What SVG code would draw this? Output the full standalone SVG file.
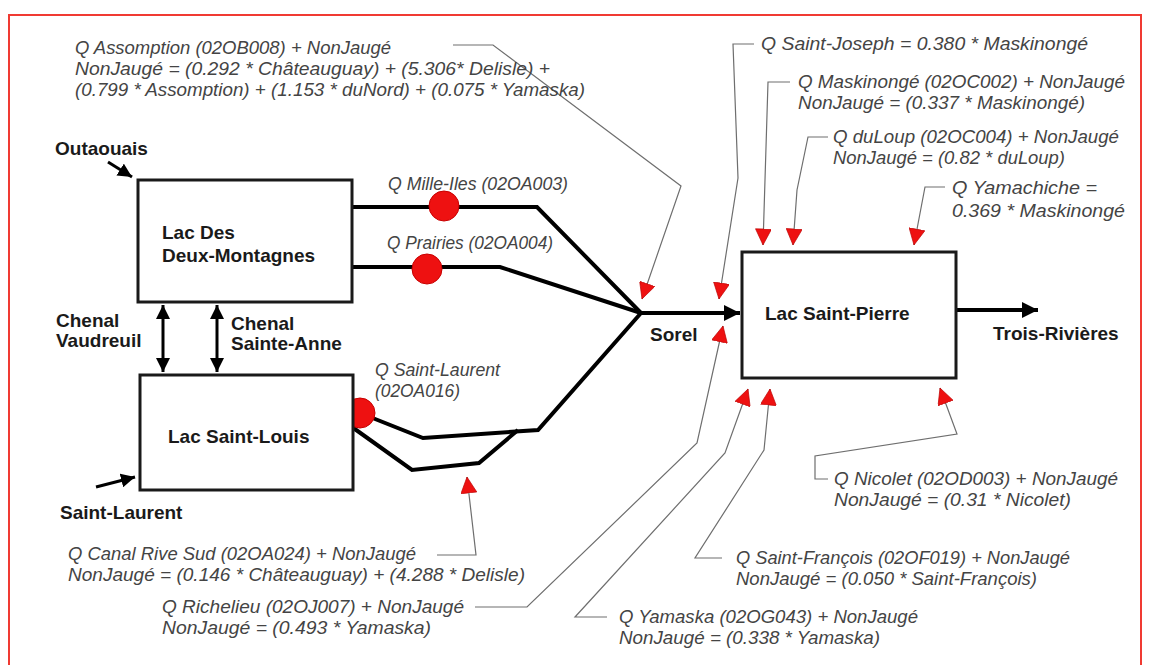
<svg xmlns="http://www.w3.org/2000/svg" width="1150" height="665" viewBox="0 0 1150 665">
<defs>
<style>
.bg{fill:#fff}
.frame{fill:none;stroke:#f03a32;stroke-width:2}
.box{fill:#fff;stroke:#1a1a1a;stroke-width:3}
.lbl{font-family:"Liberation Sans",Arial,sans-serif;font-weight:bold;font-size:19px;fill:#1a1a1a}
.ann{font-family:"Liberation Sans",Arial,sans-serif;font-style:italic;font-size:18px;fill:#444}
.flow{fill:none;stroke:#000;stroke-width:4;stroke-linejoin:miter}
.thin{fill:none;stroke:#000;stroke-width:3}
.lead{fill:none;stroke:#6e6e6e;stroke-width:1.2;marker-end:url(#red)}
.gauge{fill:#ee1111;stroke:#c80000;stroke-width:1}
</style>
<marker id="red" viewBox="0 0 10 10" refX="10" refY="5" markerWidth="17" markerHeight="16" markerUnits="userSpaceOnUse" orient="auto">
<path d="M0,0 L10,5 L0,10 z" fill="#ee1111" stroke="#b00" stroke-width="0.4"/>
</marker>
<marker id="blk" viewBox="0 0 10 10" refX="10" refY="5" markerWidth="17" markerHeight="16" markerUnits="userSpaceOnUse" orient="auto">
<path d="M0,0 L10,5 L0,10 z" fill="#000"/>
</marker>
<marker id="blks" viewBox="0 0 10 10" refX="10" refY="5" markerWidth="14" markerHeight="14" markerUnits="userSpaceOnUse" orient="auto-start-reverse">
<path d="M0,0 L10,5 L0,10 z" fill="#000"/>
</marker>
</defs>
<rect class="bg" x="0" y="0" width="1150" height="665"/>
<path class="frame" d="M9,670 V15 H1141 V670"/>

<g id="connectors">
<path class="flow" d="M352,207 H537 L641,313"/>
<path class="flow" d="M352,267 H500 L641,313"/>
<path class="flow" d="M360,413 L423,438 L538,430 L641,313"/>
<path class="flow" d="M352,427 L412,470 L479,463 L518,430"/>
<path class="flow" d="M641,313 H740" marker-end="url(#blk)"/>
<path class="flow" d="M957,310 H1038" marker-end="url(#blk)"/>
<path class="thin" d="M108,162 L132,177" stroke-width="4" marker-end="url(#blks)"/>
<path class="thin" d="M96,487 L135,477" stroke-width="4" marker-end="url(#blks)"/>
<path class="thin" d="M163,305 V372" marker-start="url(#blks)" marker-end="url(#blks)"/>
<path class="thin" d="M217,305 V372" marker-start="url(#blks)" marker-end="url(#blks)"/>
<circle class="gauge" cx="444" cy="206" r="15"/>
<circle class="gauge" cx="427" cy="269" r="15"/>
<circle class="gauge" cx="360" cy="413" r="15"/>
<path class="lead" d="M453,45 H493 L681,186 L642,299"/>
<path class="lead" d="M754,44 H733 L738,178 L719,299"/>
<path class="lead" d="M790,82 H768 L763,245"/>
<path class="lead" d="M828,137 H808 L797,190 L793,245"/>
<path class="lead" d="M945,187 H925 L914,245"/>
<path class="lead" d="M828,479 H815 V456 L957,434 L940,388"/>
<path class="lead" d="M722,558 H695 L764,450 L770,389"/>
<path class="lead" d="M607,617 H575 L725,453 L748,389"/>
<path class="lead" d="M475,607 H527 L697,443 L723,326"/>
<path class="lead" d="M437,555 H476 L467,477"/>
</g>

<g id="lac-deux-montagnes">
<rect class="box" x="138" y="180" width="214" height="122"/>
<text class="lbl" x="162" y="239">Lac Des</text>
<text class="lbl" x="162" y="262">Deux-Montagnes</text>
</g>
<g id="lac-saint-louis">
<rect class="box" x="140" y="375" width="213" height="115"/>
<text class="lbl" x="168" y="443">Lac Saint-Louis</text>
</g>
<g id="lac-saint-pierre">
<rect class="box" x="742" y="252" width="214" height="126"/>
<text class="lbl" x="765" y="320">Lac Saint-Pierre</text>
</g>

<g id="labels">
<text class="lbl" x="55" y="155">Outaouais</text>
<text class="lbl" x="56" y="327">Chenal</text>
<text class="lbl" x="56" y="347">Vaudreuil</text>
<text class="lbl" x="231" y="330">Chenal</text>
<text class="lbl" x="231" y="350">Sainte-Anne</text>
<text class="lbl" x="60" y="519">Saint-Laurent</text>
<text class="lbl" x="650" y="341">Sorel</text>
<text class="lbl" x="993" y="340">Trois-Rivières</text>
</g>

<g id="annotations">
<text class="ann" x="75" y="54" textLength="316" lengthAdjust="spacingAndGlyphs">Q Assomption (02OB008) + NonJaugé</text>
<text class="ann" x="75" y="75" textLength="475" lengthAdjust="spacingAndGlyphs">NonJaugé = (0.292 * Châteauguay) + (5.306* Delisle) +</text>
<text class="ann" x="75" y="96" textLength="510" lengthAdjust="spacingAndGlyphs">(0.799 * Assomption) + (1.153 * duNord) + (0.075 * Yamaska)</text>
<text class="ann" x="761" y="50" textLength="327" lengthAdjust="spacingAndGlyphs">Q Saint-Joseph = 0.380 * Maskinongé</text>
<text class="ann" x="798" y="88" textLength="327" lengthAdjust="spacingAndGlyphs">Q Maskinongé (02OC002) + NonJaugé</text>
<text class="ann" x="798" y="109" textLength="287" lengthAdjust="spacingAndGlyphs">NonJaugé = (0.337 * Maskinongé)</text>
<text class="ann" x="833" y="143" textLength="286" lengthAdjust="spacingAndGlyphs">Q duLoup (02OC004) + NonJaugé</text>
<text class="ann" x="833" y="164" textLength="232" lengthAdjust="spacingAndGlyphs">NonJaugé = (0.82 * duLoup)</text>
<text class="ann" x="952" y="194" textLength="145" lengthAdjust="spacingAndGlyphs">Q Yamachiche =</text>
<text class="ann" x="952" y="217" textLength="173" lengthAdjust="spacingAndGlyphs">0.369 * Maskinongé</text>
<text class="ann" x="388" y="190" textLength="180" lengthAdjust="spacingAndGlyphs">Q Mille-Iles (02OA003)</text>
<text class="ann" x="387" y="249" textLength="166" lengthAdjust="spacingAndGlyphs">Q Prairies (02OA004)</text>
<text class="ann" x="375" y="376" textLength="125" lengthAdjust="spacingAndGlyphs">Q Saint-Laurent</text>
<text class="ann" x="375" y="397" textLength="85" lengthAdjust="spacingAndGlyphs">(02OA016)</text>
<text class="ann" x="68" y="560" textLength="348" lengthAdjust="spacingAndGlyphs">Q Canal Rive Sud (02OA024) + NonJaugé</text>
<text class="ann" x="68" y="581" textLength="457" lengthAdjust="spacingAndGlyphs">NonJaugé = (0.146 * Châteauguay) + (4.288 * Delisle)</text>
<text class="ann" x="162" y="613" textLength="302" lengthAdjust="spacingAndGlyphs">Q Richelieu (02OJ007) + NonJaugé</text>
<text class="ann" x="162" y="634" textLength="269" lengthAdjust="spacingAndGlyphs">NonJaugé = (0.493 * Yamaska)</text>
<text class="ann" x="619" y="623" textLength="299" lengthAdjust="spacingAndGlyphs">Q Yamaska (02OG043) + NonJaugé</text>
<text class="ann" x="619" y="644" textLength="261" lengthAdjust="spacingAndGlyphs">NonJaugé = (0.338 * Yamaska)</text>
<text class="ann" x="736" y="564" textLength="334" lengthAdjust="spacingAndGlyphs">Q Saint-François (02OF019) + NonJaugé</text>
<text class="ann" x="736" y="585" textLength="301" lengthAdjust="spacingAndGlyphs">NonJaugé = (0.050 * Saint-François)</text>
<text class="ann" x="834" y="485" textLength="284" lengthAdjust="spacingAndGlyphs">Q Nicolet (02OD003) + NonJaugé</text>
<text class="ann" x="834" y="506" textLength="237" lengthAdjust="spacingAndGlyphs">NonJaugé = (0.31 * Nicolet)</text>
</g>
</svg>
